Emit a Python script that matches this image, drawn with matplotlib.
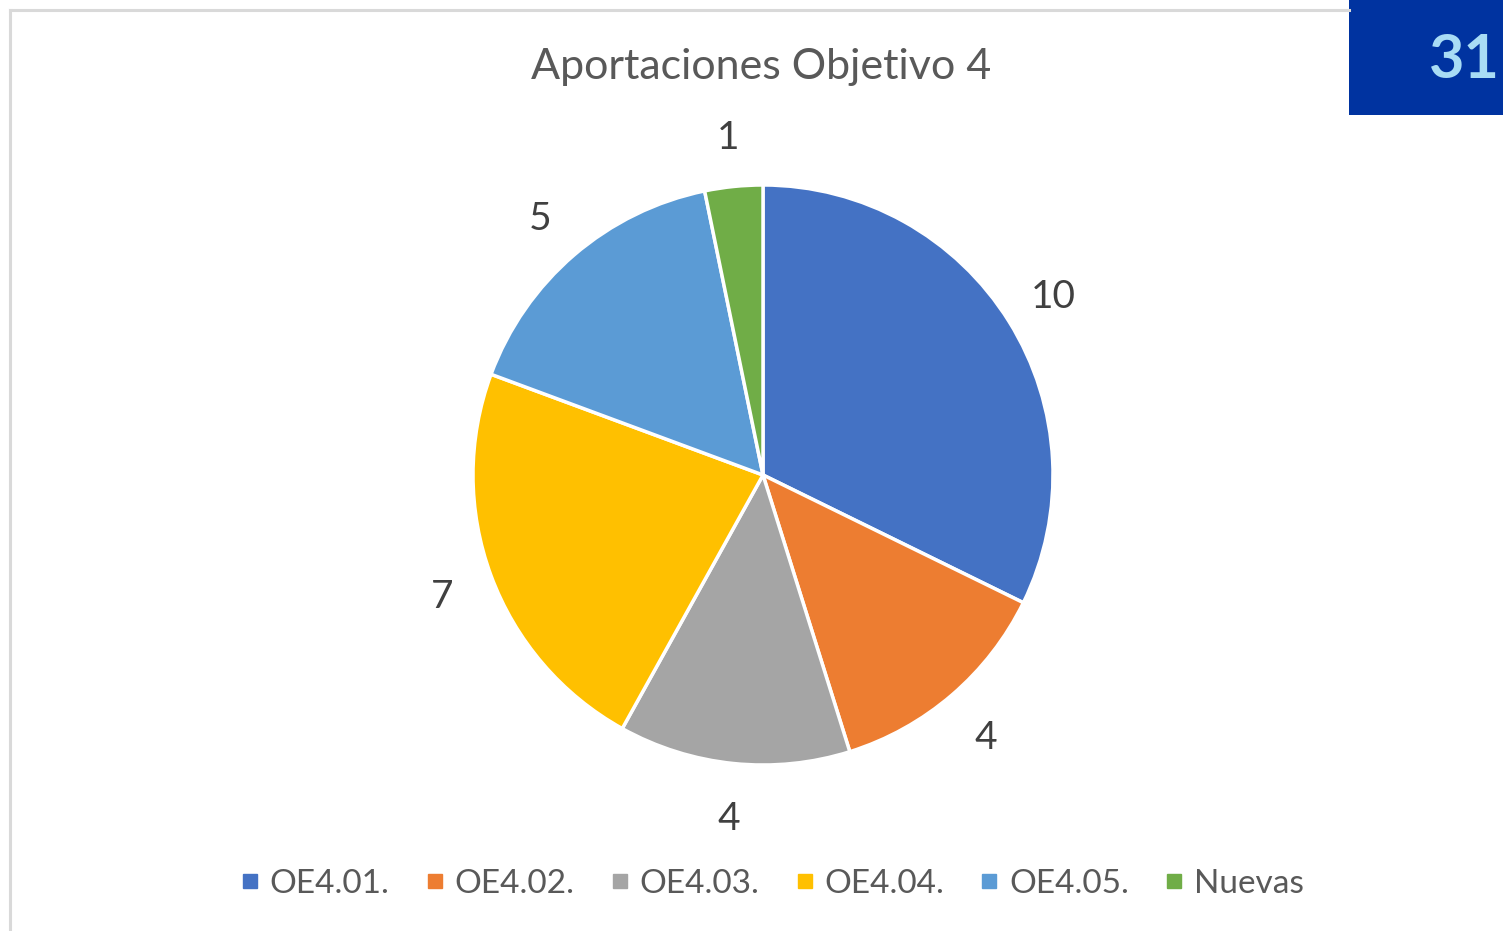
import matplotlib
matplotlib.use("Agg")
import matplotlib.pyplot as plt
from matplotlib.lines import Line2D
from matplotlib.patches import Rectangle

# data
categories = ["OE4.01.", "OE4.02.", "OE4.03.", "OE4.04.", "OE4.05.", "Nuevas"]
values = [10, 4, 4, 7, 5, 1]
colors = ["#4472C4", "#ED7D31", "#A5A5A5", "#FFC000", "#5B9BD5", "#70AD47"]
title = "Aportaciones Objetivo 4"
page_number = "31"

W, H = 1503, 931
plt.rcParams['font.family'] = ['Lato', 'DejaVu Sans']
text_gray = "#595959"

fig = plt.figure(figsize=(W / 100, H / 100), dpi=100)
ax = fig.add_axes([0, 0, 1, 1])

total = sum(values)
wedges, texts, autotexts = ax.pie(
    values, colors=colors, startangle=90, counterclock=False,
    center=(763, H - 475), radius=290,
    autopct=lambda p: f"{p * total / 100:.0f}", pctdistance=1.18,
    wedgeprops=dict(edgecolor="white", linewidth=2.5),
    textprops=dict(color="#404040", fontsize=28),
)
for t in autotexts:
    t.set_va("center_baseline")
ax.set_xlim(0, W)
ax.set_ylim(0, H)
ax.set_aspect("equal")
ax.axis("off")

ax.text(761, H - 67, title, ha="center", va="center", fontsize=31, color=text_gray)

# legend
handles = [Line2D([], [], marker="s", linestyle="", markersize=10,
                  markerfacecolor=c, markeredgecolor=c) for c in colors]
fig.legend(handles, categories, loc="center", bbox_to_anchor=(772 / W, 1 - 884 / H),
           ncol=6, frameon=False, fontsize=24, labelcolor=text_gray,
           handlelength=0.6, handletextpad=0.3, columnspacing=1.05)

# chart border (left and top)
fig.add_artist(Line2D([9.5 / W, 9.5 / W], [0, 1 - 9.5 / H], color="#D9D9D9", lw=2.2))
fig.add_artist(Line2D([9.5 / W, 1349 / W], [1 - 9.5 / H, 1 - 9.5 / H], color="#D9D9D9", lw=2.2))

# page number box
fig.add_artist(Rectangle((1349 / W, 1 - 115 / H), (W - 1349) / W, 115 / H,
                         transform=fig.transFigure, facecolor="#0033A0", edgecolor="none"))
fig.text(1500 / W, 1 - 60 / H, page_number, ha="right", va="center",
         fontsize=44, fontweight="bold", color="#A8DCF5")

fig.savefig("out.png", dpi=100)
